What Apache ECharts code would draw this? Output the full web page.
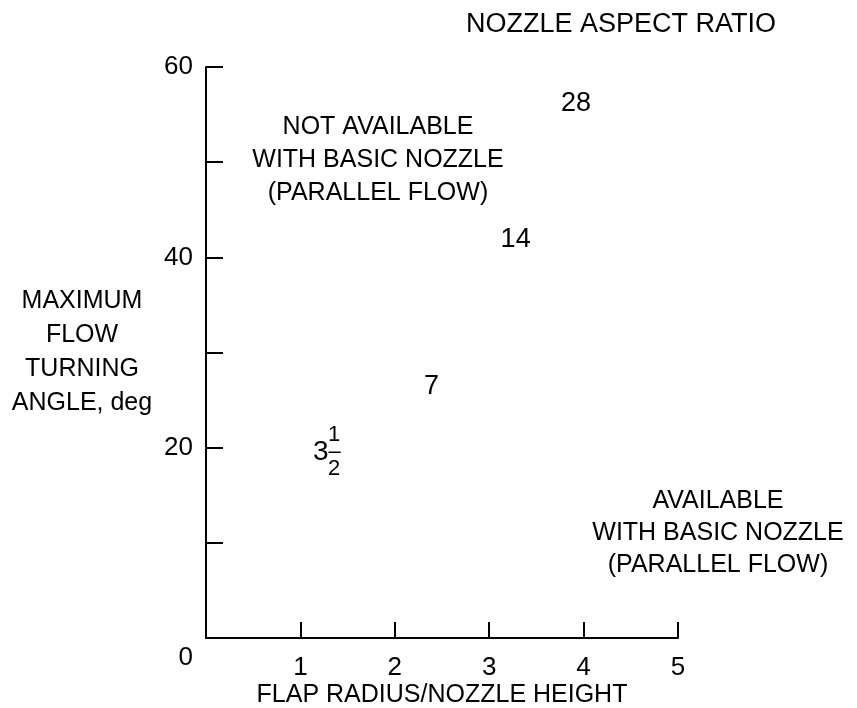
<!DOCTYPE html>
<html>
<head>
<meta charset="utf-8">
<script src="https://cdn.jsdelivr.net/npm/echarts@6/dist/echarts.min.js"></script>
<style>
  html, body { margin: 0; padding: 0; background: #fff; }
  #chart { width: 857px; height: 708px; }
</style>
</head>
<body>
<div id="chart"></div>
<script>
// ---- data ----
const aspectRatios = ['28', '14', '7', '3½'];
const flapRadius = [3.92, 3.28, 2.39, 1.28];
const maxTurningAngle = [56.2, 41.9, 26.4, 19.5];
const xTickLabels = [1, 2, 3, 4, 5];
const yTickLabels = [20, 40, 60];
const xAxisTitle = 'FLAP RADIUS/NOZZLE HEIGHT';
const yAxisTitle = 'MAXIMUM\nFLOW\nTURNING\nANGLE, deg';
const seriesTitle = 'NOZZLE ASPECT RATIO';
const upperNote = 'NOT AVAILABLE\nWITH BASIC NOZZLE\n(PARALLEL FLOW)';
const lowerNote = 'AVAILABLE\nWITH BASIC NOZZLE\n(PARALLEL FLOW)';

const FONT = '"Liberation Sans", Arial, sans-serif';

const points = aspectRatios.map((n, i) => ({ name: n, value: [flapRadius[i], maxTurningAngle[i]] }));

const chart = echarts.init(document.getElementById('chart'), null, { renderer: 'canvas' });
chart.setOption({
  backgroundColor: '#fff',
  animation: false,
  grid: { left: 206, right: 179, top: 67, bottom: 70, containLabel: false, outerBoundsMode: 'none' },
  xAxis: {
    type: 'value', min: 0, max: 5, interval: 1,
    name: xAxisTitle, nameLocation: 'middle', nameGap: 45, nameMoveOverlap: false,
    nameTextStyle: { fontFamily: FONT, fontSize: 25, color: '#000' },
    axisLine: { show: true, lineStyle: { color: '#000', width: 2 } },
    axisTick: { show: true, inside: true, length: 16, lineStyle: { color: '#000', width: 2 } },
    axisLabel: {
      margin: 17, fontFamily: FONT, fontSize: 26, color: '#000',
      formatter: v => (xTickLabels.indexOf(v) >= 0 ? String(v) : '')
    },
    splitLine: { show: false }
  },
  yAxis: {
    type: 'value', min: 0, max: 60, interval: 10,
    name: yAxisTitle, nameLocation: 'middle', nameGap: 124, nameRotate: 0, nameMoveOverlap: false,
    nameTextStyle: { fontFamily: FONT, fontSize: 25, color: '#000', align: 'center', lineHeight: 34, padding: [0, 0, 25, 0] },
    axisLine: { show: true, lineStyle: { color: '#000', width: 2 } },
    axisTick: { show: true, inside: true, length: 17, lineStyle: { color: '#000', width: 2 } },
    axisLabel: {
      margin: 13, fontFamily: FONT, fontSize: 26, color: '#000',
      formatter: v => (v === 0 ? '{z|0}' : (yTickLabels.indexOf(v) >= 0 ? String(v) : '')),
      rich: { z: { fontFamily: FONT, fontSize: 26, color: '#000', padding: [40, 0, 0, 0] } }
    },
    splitLine: { show: false }
  },
  series: [{
    type: 'scatter',
    data: points,
    symbol: 'circle',
    symbolSize: 1,
    itemStyle: { color: 'rgba(255,255,255,0)', opacity: 1 },
    emphasis: { disabled: true },
    label: {
      show: true, position: 'inside', color: '#000', textBorderWidth: 0, opacity: 1,
      fontFamily: FONT, fontSize: 27,
      formatter: p => {
        if (p.name === '3½') {
          return '{n|1}\n{t|3}{b|–}\n{n|2}';
        }
        return p.name;
      },
      rich: {
        n: { fontFamily: FONT, fontSize: 22, lineHeight: 17, color: '#000', align: 'left', padding: [0, 0, 0, 15] },
        t: { fontFamily: FONT, fontSize: 28, lineHeight: 17, color: '#000', align: 'left' },
        b: { fontFamily: FONT, fontSize: 22, lineHeight: 17, color: '#000', align: 'left', padding: [0, 0, 0, 0] }
      }
    }
  }],
  graphic: [
    { type: 'text', x: 621, y: 25, style: { text: seriesTitle, font: '27px ' + FONT, fill: '#000', textAlign: 'center', textVerticalAlign: 'middle' } },
    { type: 'text', x: 378, y: 160, style: { text: upperNote, font: '25px ' + FONT, fill: '#000', textAlign: 'center', textVerticalAlign: 'middle', lineHeight: 33 } },
    { type: 'text', x: 718, y: 533, style: { text: lowerNote, font: '25px ' + FONT, fill: '#000', textAlign: 'center', textVerticalAlign: 'middle', lineHeight: 32 } }
  ]
});
</script>
</body>
</html>
